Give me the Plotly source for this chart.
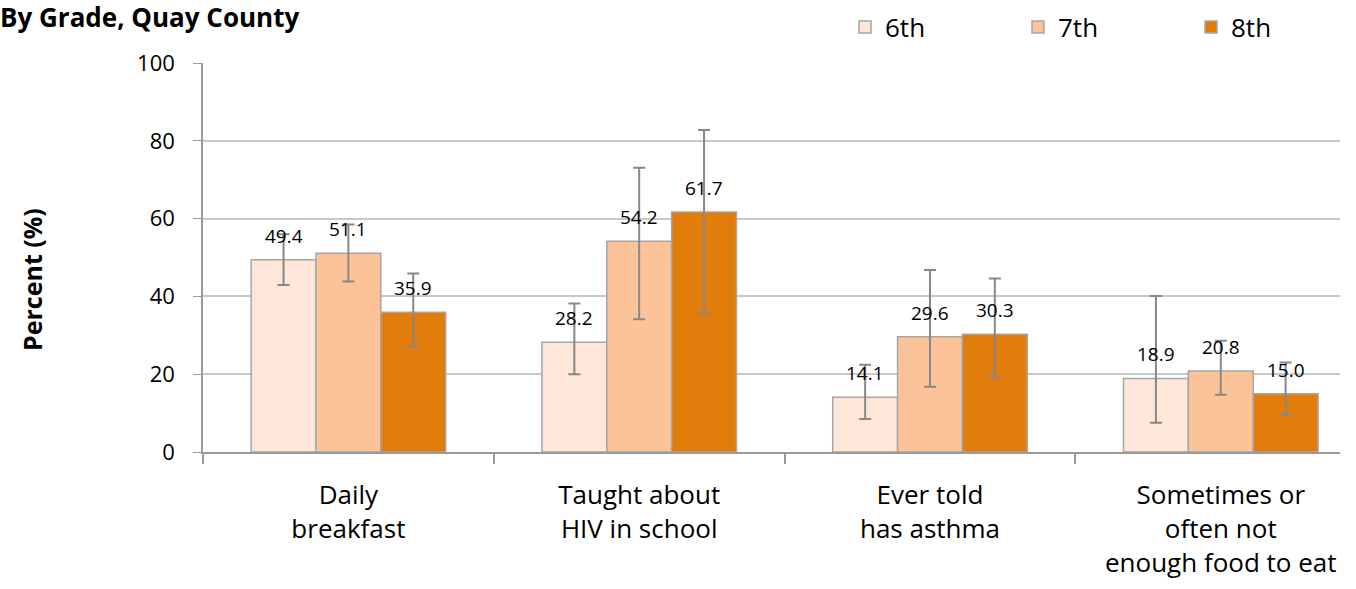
import plotly.graph_objects as go

categories = ["Daily<br>breakfast", "Taught about<br>HIV in school", "Ever told<br>has asthma",
              "Sometimes or<br>often not<br>enough food to eat"]
grades = ["6th", "7th", "8th"]
values = {
    "6th": [49.4, 28.2, 14.1, 18.9],
    "7th": [51.1, 54.2, 29.6, 20.8],
    "8th": [35.9, 61.7, 30.3, 15.0],
}
ci_upper = {
    "6th": [56.0, 38.2, 22.4, 40.1],
    "7th": [58.5, 73.1, 46.8, 28.6],
    "8th": [45.9, 82.8, 44.6, 23.0],
}
ci_lower = {
    "6th": [42.9, 20.0, 8.5, 7.5],
    "7th": [43.8, 34.1, 16.8, 14.7],
    "8th": [27.1, 35.5, 19.1, 9.5],
}
colors = {"6th": "#FEE6D9", "7th": "#FCC399", "8th": "#E27C0B"}
offsets = {"6th": -0.223, "7th": 0.0, "8th": 0.223}
legend_ids = {"6th": "legend", "7th": "legend2", "8th": "legend3"}
legend_px = {"6th": 845, "7th": 1018, "8th": 1191}
bar_w = 0.223

FONT = "Open Sans, sans-serif"
W, H = 1356, 589
ML, MR, MT, MB = 203, 16, 63, 137
PW = W - ML - MR

fig = go.Figure()
for g in grades:
    xs = [i + offsets[g] for i in range(len(categories))]
    v = values[g]
    fig.add_trace(go.Bar(
        x=xs, y=v, name=g, width=bar_w, legend=legend_ids[g],
        marker=dict(color=colors[g], line=dict(color="#A6A6A6", width=1.5)),
        error_y=dict(type="data", symmetric=False,
                     array=[u - a for u, a in zip(ci_upper[g], v)],
                     arrayminus=[a - l for a, l in zip(v, ci_lower[g])],
                     color="#888888", thickness=2, width=6),
        hoverinfo="skip",
    ))
    for x, y in zip(xs, v):
        fig.add_annotation(x=x, y=y, text=f"{y:.1f}", showarrow=False,
                           yanchor="bottom", yshift=9,
                           font=dict(family=FONT, size=19, color="#000"))

fig.add_annotation(text="<b>Percent (%)</b>", textangle=-90, showarrow=False,
                   xref="paper", yref="paper", x=(32 - ML) / PW, y=(452 - 280) / (452 - 63),
                   xanchor="center", yanchor="middle",
                   font=dict(family=FONT, size=25, color="#000"))

legend_common = dict(orientation="h", yref="container", y=1 - 27 / H, yanchor="middle",
                     xanchor="left", font=dict(family=FONT, size=26, color="#000"),
                     bgcolor="rgba(0,0,0,0)", itemwidth=30)
layout_legends = {}
for g in grades:
    layout_legends[legend_ids[g]] = dict(legend_common, x=(legend_px[g] - ML) / PW)

fig.update_layout(
    width=W, height=H,
    paper_bgcolor="white", plot_bgcolor="white",
    margin=dict(l=ML, r=MR, t=MT, b=MB, autoexpand=False),
    font=dict(family=FONT, color="#000"),
    showlegend=True,
    title=dict(text="<b>By Grade, Quay County</b>", x=0.0, xref="container", xanchor="left",
               y=1 - 18 / H, yref="container", yanchor="middle", pad=dict(l=0, t=0, b=0, r=0),
               font=dict(family=FONT, size=26, color="#000")),
    **layout_legends,
)
fig.update_xaxes(
    range=[-0.5, 3.41], tickvals=list(range(len(categories))), ticktext=categories,
    ticks="", showgrid=False, showline=True, linecolor="#9A9A9A", linewidth=1.5,
    tickfont=dict(family=FONT, size=26, color="#000"), zeroline=False, automargin=False,
    ticklabelstandoff=19,
    minor=dict(tick0=0.5, dtick=1, ticks="outside", ticklen=10, tickcolor="#9A9A9A", tickwidth=1.5, showgrid=False),
)
fig.update_yaxes(
    range=[0, 100], dtick=20, showgrid=True, gridcolor="#C8C8C8", gridwidth=1.5,
    showline=True, linecolor="#9A9A9A", linewidth=1.5, ticks="outside", ticklen=8,
    tickcolor="#9A9A9A", tickfont=dict(family=FONT, size=22, color="#000"), zeroline=False,
    automargin=False, ticklabelstandoff=14,
)
fig.write_html("out.html", post_script="document.body.style.margin='0';",
               config={"displayModeBar": False})
